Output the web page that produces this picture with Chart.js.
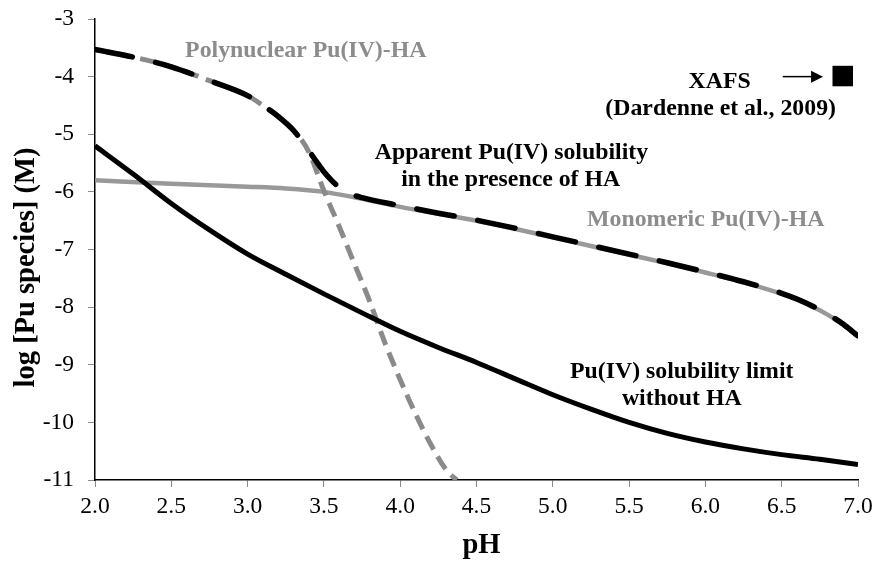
<!DOCTYPE html>
<html>
<head>
<meta charset="utf-8">
<script src="https://cdn.jsdelivr.net/npm/chart.js@4/dist/chart.umd.min.js"></script>
<style>
  html, body { margin: 0; padding: 0; background: #fff; }
  #c { display: block; }
</style>
</head>
<body>
<canvas id="c" width="879" height="567"></canvas>
<script>
// ---------- data ----------
const solubilityPH  = [2.0, 2.25, 2.5, 2.75, 3.0, 3.25, 3.5, 3.75, 4.0, 4.25, 4.5, 4.75, 5.0, 5.25, 5.5, 5.75, 6.0, 6.25, 6.5, 6.75, 7.0];
const solubilityLog = [-5.20, -5.69, -6.20, -6.66, -7.08, -7.43, -7.77, -8.10, -8.42, -8.70, -8.96, -9.24, -9.52, -9.77, -10.00, -10.19, -10.34, -10.46, -10.56, -10.64, -10.73];

const monomericPH  = [2.0, 2.5, 3.0, 3.25, 3.5, 3.75, 4.0, 4.25, 4.5, 4.75, 5.0, 5.25, 5.5, 5.75, 6.0, 6.25, 6.5, 6.6, 6.7, 6.8, 6.9, 7.0];
const monomericLog = [-5.80, -5.86, -5.91, -5.94, -6.00, -6.12, -6.26, -6.38, -6.50, -6.64, -6.79, -6.94, -7.09, -7.24, -7.40, -7.57, -7.77, -7.87, -7.99, -8.13, -8.30, -8.51];

const polynuclearPH  = [2.0, 2.25, 2.5, 2.75, 3.0, 3.1, 3.2, 3.3, 3.4, 3.5, 3.6, 3.7, 3.8, 3.9, 4.0, 4.1, 4.2, 4.3, 4.37];
const polynuclearLog = [-3.53, -3.66, -3.83, -4.07, -4.33, -4.50, -4.69, -4.93, -5.30, -5.98, -6.60, -7.25, -7.90, -8.62, -9.26, -9.85, -10.38, -10.82, -11.00];

const apparentPH  = [2.0, 2.25, 2.5, 2.75, 3.0, 3.1, 3.2, 3.3, 3.4, 3.45, 3.5, 3.55, 3.6, 3.66, 3.75, 4.0, 4.25, 4.5, 4.75, 5.0, 5.25, 5.5, 5.75, 6.0, 6.25, 6.5, 6.6, 6.7, 6.8, 6.9, 7.0];
const apparentLog = [-3.53, -3.66, -3.83, -4.07, -4.33, -4.50, -4.69, -4.93, -5.28, -5.47, -5.65, -5.80, -5.92, -6.02, -6.10, -6.24, -6.37, -6.49, -6.63, -6.78, -6.93, -7.08, -7.23, -7.39, -7.56, -7.76, -7.86, -7.98, -8.12, -8.29, -8.50];

const xafsPH  = [6.9];
const xafsLog = [-3.99];

const xTicks = [2.0, 2.5, 3.0, 3.5, 4.0, 4.5, 5.0, 5.5, 6.0, 6.5, 7.0];
const yTicks = [-3, -4, -5, -6, -7, -8, -9, -10, -11];

const xTitle = 'pH';
const yTitle = 'log [Pu species] (M)';

// ---------- presentation ----------
const FONT = "'Liberation Serif', 'Times New Roman', serif";
const GRAY_TEXT = '#8c8c8c';

const labels = [
  { text: 'Polynuclear Pu(IV)-HA', x: 3.381, y: -3.55, color: GRAY_TEXT },
  { text: 'XAFS', x: 6.093, y: -4.09, color: '#000' },
  { text: '(Dardenne et al., 2009)', x: 6.10, y: -4.566, color: '#000' },
  { text: 'Apparent Pu(IV) solubility', x: 4.729, y: -5.33, color: '#000' },
  { text: 'in the presence of HA', x: 4.724, y: -5.79, color: '#000' },
  { text: 'Monomeric Pu(IV)-HA', x: 6.002, y: -6.484, color: GRAY_TEXT },
  { text: 'Pu(IV) solubility limit', x: 5.845, y: -9.13, color: '#000' },
  { text: 'without HA', x: 5.845, y: -9.60, color: '#000' }
];
const arrow = { x0: 6.507, x1: 6.771, y: -4.0 };

const zip = (xs, ys) => xs.map((x, i) => ({ x: x, y: ys[i] }));

const overlay = {
  id: 'overlay',
  afterDatasetsDraw(chart) {
    const ctx = chart.ctx;
    const xs = chart.scales.x, ys = chart.scales.y;
    ctx.save();
    ctx.textAlign = 'center';
    ctx.textBaseline = 'middle';
    ctx.font = "bold 23.8px " + FONT;
    labels.forEach(l => {
      ctx.fillStyle = l.color;
      ctx.fillText(l.text, xs.getPixelForValue(l.x), ys.getPixelForValue(l.y));
    });
    // arrow
    const ax0 = xs.getPixelForValue(arrow.x0), ax1 = xs.getPixelForValue(arrow.x1);
    const ay = ys.getPixelForValue(arrow.y);
    ctx.strokeStyle = '#000';
    ctx.lineWidth = 1.5;
    ctx.beginPath();
    ctx.moveTo(ax0, ay);
    ctx.lineTo(ax1 - 10, ay);
    ctx.stroke();
    ctx.fillStyle = '#000';
    ctx.beginPath();
    ctx.moveTo(ax1, ay);
    ctx.lineTo(ax1 - 12, ay - 6);
    ctx.lineTo(ax1 - 12, ay + 6);
    ctx.closePath();
    ctx.fill();
    // axis titles
    ctx.font = "bold 28.5px " + FONT;
    ctx.fillStyle = '#000';
    const ca = chart.chartArea;
    ctx.fillText(xTitle, (ca.left + ca.right) / 2 + 5, 546);
    ctx.translate(27, (ca.top + ca.bottom) / 2 + 18);
    ctx.rotate(-Math.PI / 2);
    ctx.fillText(yTitle, 0, 0);
    ctx.restore();
  }
};

new Chart(document.getElementById('c'), {
  type: 'line',
  data: {
    datasets: [
      { label: 'XAFS (Dardenne et al., 2009)', data: zip(xafsPH, xafsLog), showLine: false,
        pointStyle: 'rect', pointRadius: 14.5, pointBackgroundColor: '#000', pointBorderWidth: 0, order: 0 },
      { label: 'Apparent Pu(IV) solubility in the presence of HA', data: zip(apparentPH, apparentLog),
        borderColor: '#000', borderWidth: 5.5, borderDash: [38, 24], borderCapStyle: 'round',
        pointRadius: 0, cubicInterpolationMode: 'monotone', order: 1 },
      { label: 'Pu(IV) solubility limit without HA', data: zip(solubilityPH, solubilityLog),
        borderColor: '#000', borderWidth: 5, pointRadius: 0, cubicInterpolationMode: 'monotone', order: 2 },
      { label: 'Polynuclear Pu(IV)-HA', data: zip(polynuclearPH, polynuclearLog),
        borderColor: '#8a8a8a', borderWidth: 5, borderDash: [15, 8],
        pointRadius: 0, cubicInterpolationMode: 'monotone', order: 3 },
      { label: 'Monomeric Pu(IV)-HA', data: zip(monomericPH, monomericLog),
        borderColor: '#999999', borderWidth: 4.5, pointRadius: 0, cubicInterpolationMode: 'monotone', order: 4 }
    ]
  },
  options: {
    responsive: false,
    animation: false,
    events: [],
    layout: { padding: { top: 19, right: 21, left: 0, bottom: 0 } },
    plugins: { legend: { display: false }, tooltip: { enabled: false }, title: { display: false } },
    scales: {
      x: {
        type: 'linear', min: 2, max: 7,
        afterFit: s => { s.height = 87; s.paddingLeft = 0; s.paddingRight = 0; },
        afterBuildTicks: s => { s.ticks = xTicks.map(v => ({ value: v })); },
        ticks: { font: { family: FONT, size: 23.5 }, color: '#000', padding: 6,
                 callback: v => Number(v).toFixed(1), maxRotation: 0, autoSkip: false },
        grid: { drawOnChartArea: false, drawTicks: true, tickLength: 7, color: '#8a8a8a', lineWidth: 1 },
        border: { display: true, color: '#000', width: 1.5 },
        title: { display: false }
      },
      y: {
        type: 'linear', min: -11, max: -3,
        afterFit: s => { s.width = 95; s.paddingTop = 0; s.paddingBottom = 0; },
        afterBuildTicks: s => { s.ticks = yTicks.map(v => ({ value: v })); },
        ticks: { font: { family: FONT, size: 23.5 }, color: '#000', padding: 14,
                 callback: v => String(v), autoSkip: false },
        grid: { drawOnChartArea: false, drawTicks: true, tickLength: 7, color: '#8a8a8a', lineWidth: 1 },
        border: { display: true, color: '#000', width: 1.5 },
        title: { display: false }
      }
    }
  },
  plugins: [overlay]
});
</script>
</body>
</html>
